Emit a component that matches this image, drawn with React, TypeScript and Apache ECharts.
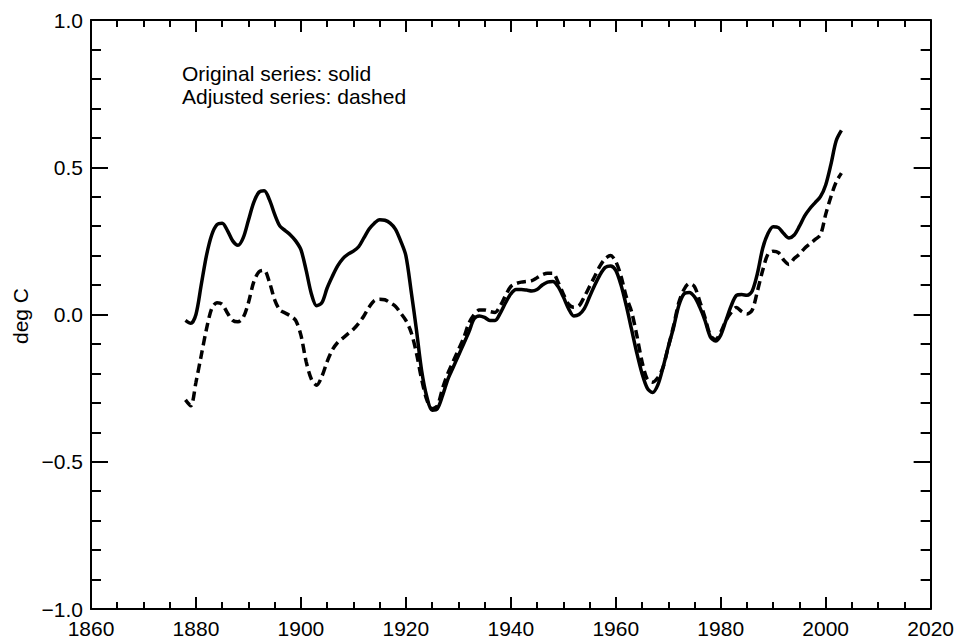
import React, { useEffect, useRef } from "react";
import * as echarts from "echarts";

const years: number[] = [];
for (let y = 1878; y <= 2003; y++) years.push(y);

const originalSeries = [
  -0.02, -0.03, 0.0, 0.1, 0.2, 0.27, 0.305, 0.31, 0.285, 0.25,
  0.235, 0.26, 0.32, 0.38, 0.415, 0.42, 0.39, 0.34, 0.3, 0.285,
  0.27, 0.25, 0.22, 0.15, 0.07, 0.03, 0.04, 0.09, 0.13, 0.165,
  0.19, 0.205, 0.215, 0.23, 0.26, 0.29, 0.31, 0.322, 0.32, 0.31,
  0.29, 0.25, 0.2, 0.08, -0.05, -0.19, -0.28, -0.325, -0.32, -0.275,
  -0.22, -0.18, -0.14, -0.1, -0.06, -0.015, -0.005, -0.01, -0.02, -0.02,
  0.005, 0.04, 0.07, 0.085, 0.085, 0.083, 0.08, 0.085, 0.1, 0.11,
  0.112, 0.095, 0.06, 0.02, -0.005, 0.0, 0.02, 0.06, 0.1, 0.135,
  0.16, 0.165, 0.15, 0.1, 0.03, -0.05, -0.13, -0.2, -0.25, -0.265,
  -0.24, -0.18, -0.11, -0.045, 0.03, 0.07, 0.075, 0.06, 0.025, -0.02,
  -0.075, -0.09, -0.07, -0.02, 0.03, 0.065, 0.068, 0.065, 0.08, 0.14,
  0.225, 0.275, 0.298, 0.295, 0.275, 0.26, 0.27, 0.3, 0.335, 0.36,
  0.38, 0.4, 0.44, 0.51, 0.59, 0.625,
];

const adjustedSeries = [
  -0.29, -0.31, -0.23, -0.14, -0.05, 0.02, 0.04, 0.035, 0.005, -0.02,
  -0.025, -0.01, 0.04, 0.11, 0.145, 0.15, 0.11, 0.05, 0.015, 0.005,
  -0.005, -0.02, -0.07, -0.16, -0.22, -0.24, -0.21, -0.16, -0.12, -0.095,
  -0.08, -0.065, -0.05, -0.03, -0.005, 0.025, 0.047, 0.052, 0.05, 0.04,
  0.028, 0.005, -0.02, -0.06, -0.13, -0.22, -0.29, -0.32, -0.31, -0.25,
  -0.2, -0.16, -0.12, -0.08, -0.03, 0.0, 0.015, 0.015, 0.01, 0.007,
  0.03, 0.065, 0.095, 0.105, 0.11, 0.112, 0.115, 0.125, 0.135, 0.14,
  0.14, 0.11, 0.07, 0.035, 0.025, 0.03, 0.06, 0.095, 0.13, 0.165,
  0.19, 0.2, 0.18, 0.13, 0.06, 0.01, -0.07, -0.16, -0.22, -0.23,
  -0.215, -0.18, -0.11, -0.04, 0.04, 0.085, 0.105, 0.095, 0.045, -0.01,
  -0.07, -0.085, -0.06, -0.02, 0.007, 0.024, 0.01, 0.002, 0.015, 0.08,
  0.15, 0.205, 0.215, 0.21, 0.185, 0.17, 0.19, 0.205, 0.225, 0.24,
  0.255, 0.27, 0.34, 0.4, 0.45, 0.48,
];

const annotationLines = ["Original series: solid", "Adjusted series: dashed"];
const yAxisTitle = "deg C";

const FONT = "'Liberation Sans', Arial, Helvetica, sans-serif";
const FS = 21;

const fmtY = (v: number) => (v < 0 ? "\u2212" + Math.abs(v).toFixed(1) : v.toFixed(1));
const fmtX = (v: number) => String(Math.round(v));

export default function App() {
  const ref = useRef<HTMLDivElement>(null);
  useEffect(() => {
    if (!ref.current) return;
    const chart = echarts.init(ref.current, undefined, { renderer: "svg" });
    const axisLine = { show: true, onZero: false, lineStyle: { color: "#000", width: 2 } };
    const xCommon = {
      type: "value" as const,
      min: 1860,
      max: 2020,
      interval: 20,
      axisLine,
      splitLine: { show: false },
      axisTick: { show: true, inside: true, length: 12, lineStyle: { color: "#000", width: 2 } },
      minorTick: { show: true, splitNumber: 4, length: 7, lineStyle: { color: "#000", width: 2 } },
      minorSplitLine: { show: false },
    };
    const yCommon = {
      type: "value" as const,
      min: -1,
      max: 1,
      interval: 0.5,
      axisLine,
      splitLine: { show: false },
      axisTick: { show: true, inside: true, length: 17, lineStyle: { color: "#000", width: 2 } },
      minorTick: { show: true, splitNumber: 5, length: 10, lineStyle: { color: "#000", width: 2 } },
      minorSplitLine: { show: false },
    };
    chart.setOption({
      animation: false,
      backgroundColor: "#fff",
      grid: { left: 91, top: 20, right: 24, bottom: 28, containLabel: false },
      xAxis: [
        {
          ...xCommon,
          position: "bottom",
          axisLabel: { show: true, color: "#000", fontSize: FS, fontFamily: FONT, margin: 9, formatter: fmtX },
        },
        { ...xCommon, position: "top", axisLabel: { show: false } },
      ],
      yAxis: [
        {
          ...yCommon,
          position: "left",
          axisLabel: { show: true, color: "#000", fontSize: FS, fontFamily: FONT, margin: 8, formatter: fmtY },
        },
        { ...yCommon, position: "right", axisLabel: { show: false } },
      ],
      graphic: [
        {
          type: "text",
          left: 182,
          top: 63,
          style: { text: annotationLines[0], fontSize: FS, fontFamily: FONT, fill: "#000" },
        },
        {
          type: "text",
          left: 182,
          top: 86,
          style: { text: annotationLines[1], fontSize: FS, fontFamily: FONT, fill: "#000" },
        },
        {
          type: "text",
          x: 20,
          y: 316,
          rotation: Math.PI / 2,
          style: {
            text: yAxisTitle,
            fontSize: FS,
            fontFamily: FONT,
            fill: "#000",
            align: "center",
            verticalAlign: "middle",
          },
        },
      ],
      series: [
        {
          type: "line",
          name: "Original",
          data: years.map((y, i) => [y, originalSeries[i]]),
          showSymbol: false,
          smooth: 0.3,
          lineStyle: { color: "#000", width: 3.5 },
          z: 3,
        },
        {
          type: "line",
          name: "Adjusted",
          data: years.map((y, i) => [y, adjustedSeries[i]]),
          showSymbol: false,
          smooth: 0.3,
          lineStyle: { color: "#000", width: 3.5, type: [9, 5] },
          z: 2,
        },
      ],
    });
    return () => chart.dispose();
  }, []);
  return (
    <div
      ref={ref}
      style={{ position: "fixed", left: 0, top: 0, width: 957, height: 639, background: "#fff" }}
    />
  );
}
